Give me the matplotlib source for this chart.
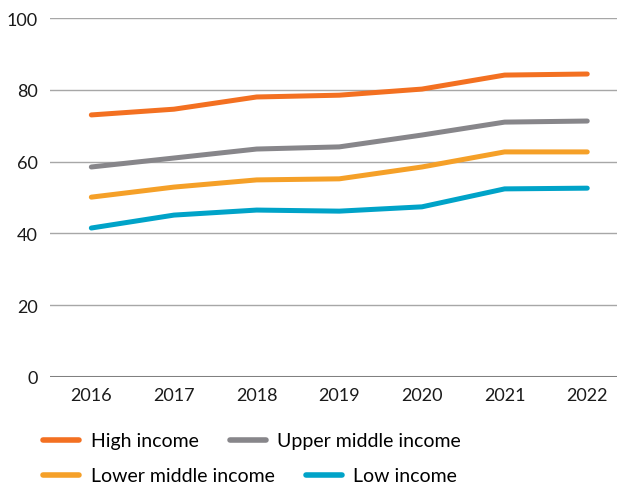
import matplotlib.pyplot as plt
from matplotlib.lines import Line2D

years = [2016, 2017, 2018, 2019, 2020, 2021, 2022]
high_income = [73.0, 74.6, 78.0, 78.5, 80.2, 84.1, 84.4]
upper_middle_income = [58.5, 61.0, 63.5, 64.1, 67.4, 71.0, 71.3]
lower_middle_income = [50.1, 52.9, 54.9, 55.2, 58.5, 62.7, 62.7]
low_income = [41.5, 45.1, 46.5, 46.2, 47.4, 52.4, 52.6]

series = [
    ("High income", high_income, "#F37021"),
    ("Upper middle income", upper_middle_income, "#87868A"),
    ("Lower middle income", lower_middle_income, "#F5A028"),
    ("Low income", low_income, "#00A3C8"),
]

plt.rcParams["font.family"] = ["Lato", "DejaVu Sans"]

fig = plt.figure(figsize=(6.17, 4.85), dpi=100)
ax = fig.add_axes([50 / 617, 107 / 485, 567 / 617, 359 / 485])

for label, values, color in series:
    ax.plot(years, values, color=color, linewidth=3.6, solid_capstyle="round",
            solid_joinstyle="round", label=label, zorder=3)

ax.set_xlim(2015.5, 2022.36)
ax.set_ylim(0, 100)
ax.set_yticks([0, 20, 40, 60, 80, 100])
ax.set_xticks(years)
ax.grid(axis="y", color="#A7A7A7", linewidth=1.0, zorder=1)
ax.axhline(0, color="#808080", linewidth=2.2, zorder=2)
for s in ax.spines.values():
    s.set_visible(False)
ax.tick_params(axis="both", length=0, labelsize=13, colors="#1a1a1a")
ax.tick_params(axis="y", pad=9)
ax.tick_params(axis="x", pad=7)

# two legend rows, each laid out on its own (columns are not aligned in the original)
rows = [(series[0:2], 442), (series[2:4], 477)]
for row, ypix in rows:
    handles = [Line2D([], [], color=c, linewidth=4, solid_capstyle="round") for _, _, c in row]
    labels = [l for l, _, _ in row]
    fig.legend(handles, labels, ncol=2, loc="center left",
               bbox_to_anchor=(43 / 617, 1 - ypix / 485),
               frameon=False, fontsize=14, handlelength=1.85, handletextpad=0.6,
               columnspacing=1.6, borderaxespad=0, borderpad=0)

fig.savefig("out.png", dpi=100)
